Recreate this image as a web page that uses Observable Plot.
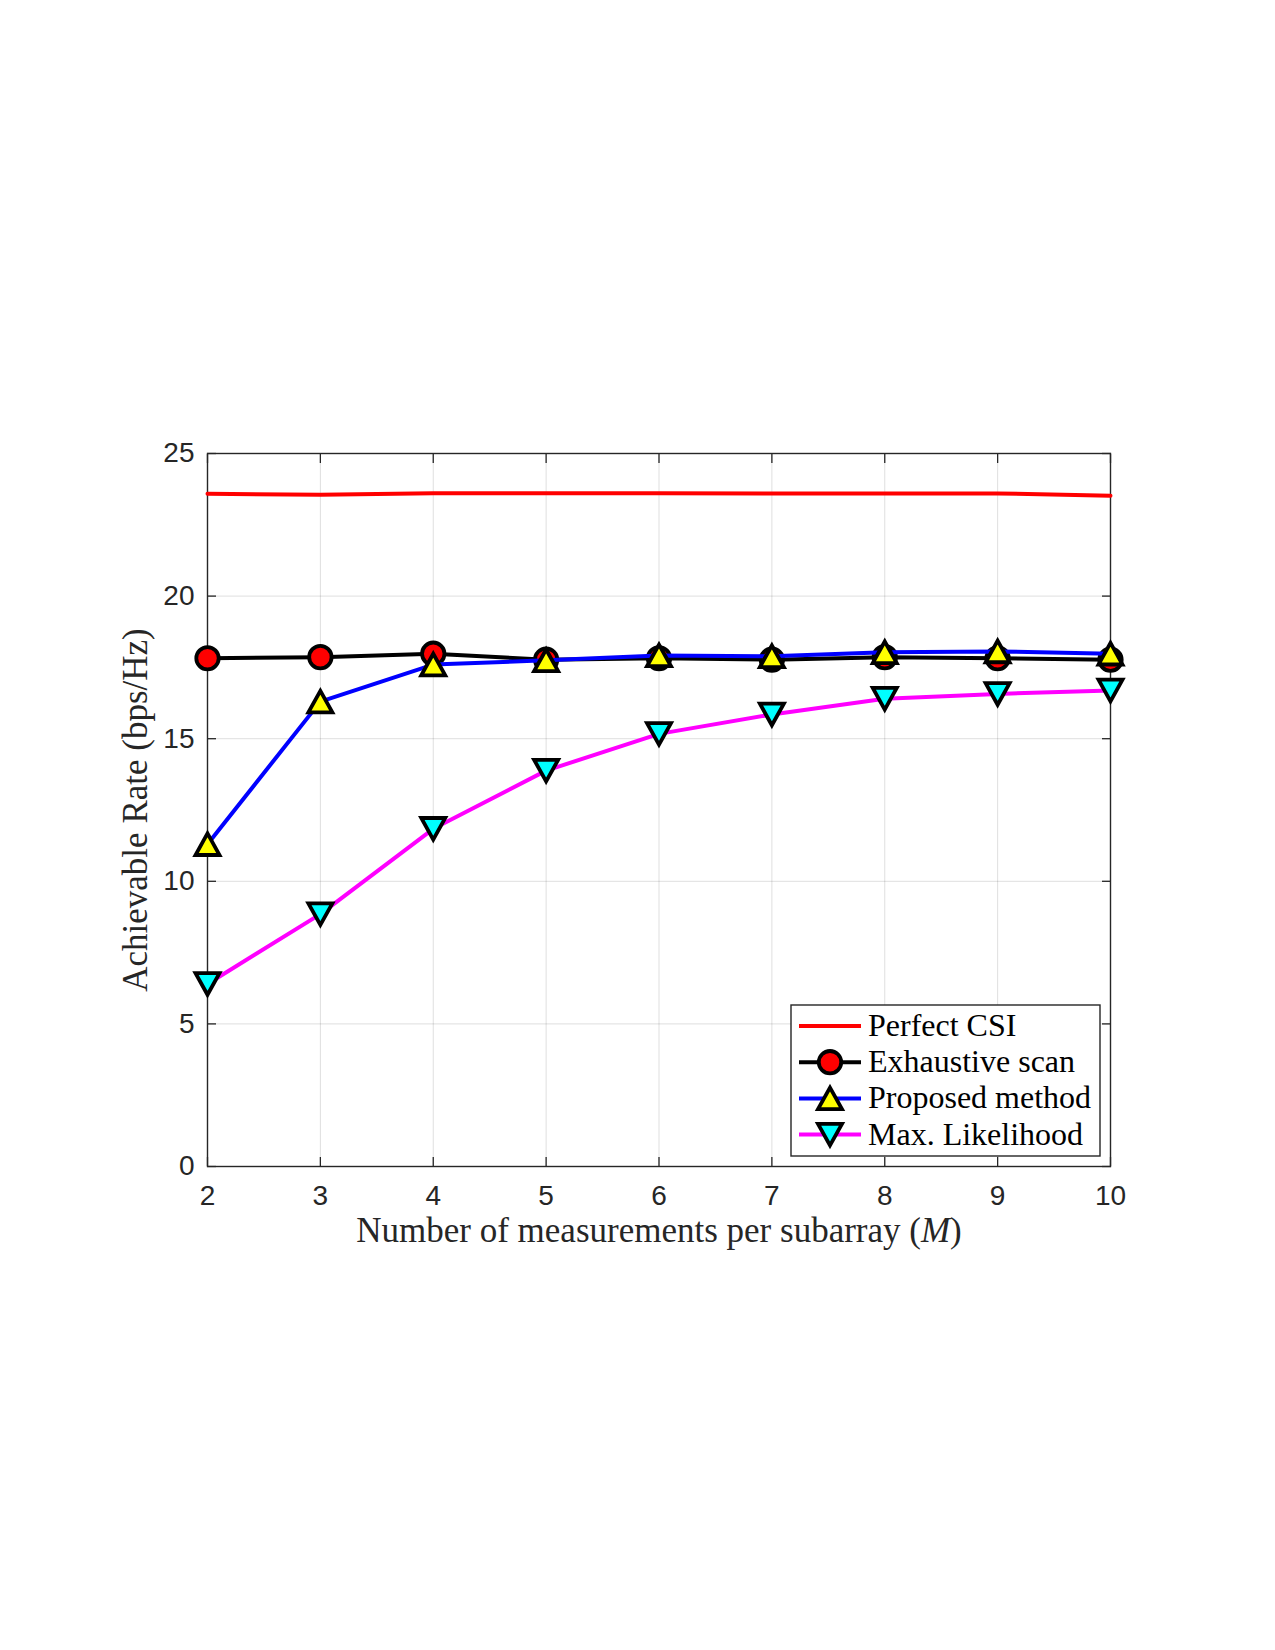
<!DOCTYPE html>
<html>
<head>
<meta charset="utf-8">
<script src="https://cdn.jsdelivr.net/npm/d3@7"></script>
<script src="https://cdn.jsdelivr.net/npm/@observablehq/plot@0.6"></script>
<style>
  body { margin: 0; background: #fff; }
  #figure { position: relative; width: 1275px; height: 1650px; overflow: hidden; }
  #legend { position: absolute; left: 790px; top: 1004px; }
</style>
</head>
<body>
<div id="figure"></div>
<script>
// Number of measurements per subarray (M)
const measurements = [2, 3, 4, 5, 6, 7, 8, 9, 10];

// Achievable rate (bps/Hz) for each scheme
const perfectCSI     = [23.59, 23.55, 23.61, 23.61, 23.61, 23.60, 23.60, 23.60, 23.52];
const exhaustiveScan = [17.82, 17.86, 17.98, 17.77, 17.82, 17.77, 17.86, 17.82, 17.77];
const proposedMethod = [11.30, 16.30, 17.60, 17.75, 17.92, 17.89, 18.03, 18.06, 17.98];
const maxLikelihood  = [6.40, 8.85, 11.84, 13.88, 15.17, 15.85, 16.40, 16.57, 16.69];

const seriesNames = ["Perfect CSI", "Exhaustive scan", "Proposed method", "Max. Likelihood"];

const xTicks = [2, 3, 4, 5, 6, 7, 8, 9, 10];
const yTicks = [0, 5, 10, 15, 20, 25];

const xLabel = "Number of measurements per subarray (M)";
const yLabel = "Achievable Rate (bps/Hz)";

// Marker shapes (centred on their bounding box, like MATLAB markers)
const triangleUp = {
  draw(ctx) { ctx.moveTo(0, -10.8); ctx.lineTo(12, 10.8); ctx.lineTo(-12, 10.8); ctx.closePath(); }
};
const triangleDown = {
  draw(ctx) { ctx.moveTo(0, 10.8); ctx.lineTo(12, -10.8); ctx.lineTo(-12, -10.8); ctx.closePath(); }
};

const series = [
  {name: seriesNames[0], values: perfectCSI,     stroke: "#ff0000", symbol: null,         fill: null},
  {name: seriesNames[1], values: exhaustiveScan, stroke: "#000000", symbol: "circle",     fill: "#ff0000"},
  {name: seriesNames[2], values: proposedMethod, stroke: "#0000ff", symbol: triangleUp,   fill: "#ffff00"},
  {name: seriesNames[3], values: maxLikelihood,  stroke: "#ff00ff", symbol: triangleDown, fill: "#00ffff"}
];

const rows = (s) => measurements.map((m, i) => ({m, rate: s.values[i], name: s.name}));

const axisColor = "#262626";
const sansFont = "'Liberation Sans', Arial, Helvetica, sans-serif";
const serifFont = "'Liberation Serif', 'Times New Roman', serif";
const lineWidth = 4;
const markerStroke = 3.8;
const circleR = 11.2;

const dataMarks = [];
for (const s of series) {
  const d = rows(s);
  dataMarks.push(Plot.line(d, {x: "m", y: "rate", stroke: s.stroke, strokeWidth: lineWidth}));
  if (s.symbol) {
    dataMarks.push(Plot.dot(d, {
      x: "m", y: "rate", symbol: s.symbol, r: circleR,
      fill: s.fill, stroke: "#000", strokeWidth: markerStroke, strokeLinejoin: "miter"
    }));
  }
}

const chart = Plot.plot({
  width: 1275,
  height: 1650,
  marginLeft: 207,
  marginRight: 165,
  marginTop: 453,
  marginBottom: 484,
  style: {fontFamily: sansFont, fontSize: "28px", color: axisColor, background: "white", overflow: "visible"},
  x: {domain: [2, 10]},
  y: {domain: [0, 25]},
  marks: [
    Plot.gridX(xTicks, {stroke: "#000", strokeOpacity: 0.13, strokeWidth: 1}),
    Plot.gridY(yTicks, {stroke: "#000", strokeOpacity: 0.13, strokeWidth: 1}),
    Plot.frame({stroke: axisColor, strokeWidth: 1.4}),
    // inward ticks with labels on the left and bottom
    Plot.axisX(xTicks, {anchor: "bottom", tickSize: 9, dy: -9, tickPadding: 19, label: null, fontSize: 28, stroke: axisColor, strokeWidth: 1.3}),
    Plot.axisY(yTicks, {anchor: "left", tickSize: 9, dx: 9, tickPadding: 13, label: null, fontSize: 28, stroke: axisColor, strokeWidth: 1.3}),
    // mirrored inward ticks on the top and right
    Plot.axisX(xTicks, {anchor: "top", tickSize: 9, dy: 9, fill: "none", label: null, stroke: axisColor, strokeWidth: 1.3}),
    Plot.axisY(yTicks, {anchor: "right", tickSize: 9, dx: -9, fill: "none", label: null, stroke: axisColor, strokeWidth: 1.3}),
    ...dataMarks,
    Plot.text([xLabel], {frameAnchor: "bottom", dy: 64, fontFamily: serifFont, fontSize: 35, fill: axisColor, textAnchor: "middle", lineAnchor: "middle"}),
    Plot.text([yLabel], {frameAnchor: "left", rotate: -90, dx: -72, fontFamily: serifFont, fontSize: 35, fill: axisColor, textAnchor: "middle", lineAnchor: "middle"})
  ]
});

// italic M in the x-axis title
d3.select(chart).selectAll("text").each(function () {
  if (this.textContent === xLabel) {
    const t = d3.select(this);
    t.text(null);
    t.append("tspan").text("Number of measurements per subarray (");
    t.append("tspan").attr("font-style", "italic").text("M");
    t.append("tspan").text(")");
  }
});

const figure = document.getElementById("figure");
figure.appendChild(chart);

// Legend box inside the axes
const legW = 312, legH = 154, rowGap = 36.2, firstRow = 22;
const legend = d3.create("svg")
  .attr("id", "legend")
  .attr("width", legW)
  .attr("height", legH);
legend.append("rect")
  .attr("x", 1).attr("y", 1).attr("width", 309).attr("height", 151)
  .attr("fill", "white").attr("stroke", axisColor).attr("stroke-width", 1.4);
series.forEach((s, i) => {
  const g = legend.append("g").attr("transform", `translate(0,${firstRow + i * rowGap})`);
  g.append("line").attr("x1", 9).attr("x2", 71).attr("y1", 0).attr("y2", 0)
    .attr("stroke", s.stroke).attr("stroke-width", lineWidth);
  if (s.symbol) {
    const sym = s.symbol === "circle" ? d3.symbolCircle : s.symbol;
    g.append("path")
      .attr("transform", "translate(40,0)")
      .attr("d", d3.symbol(sym, Math.PI * circleR * circleR)())
      .attr("fill", s.fill).attr("stroke", "#000").attr("stroke-width", markerStroke)
      .attr("stroke-linejoin", "miter");
  }
  g.append("text").attr("x", 78).attr("y", 10)
    .attr("font-family", serifFont).attr("font-size", 32).attr("fill", "#000")
    .text(s.name);
});
figure.appendChild(legend.node());
</script>
</body>
</html>
